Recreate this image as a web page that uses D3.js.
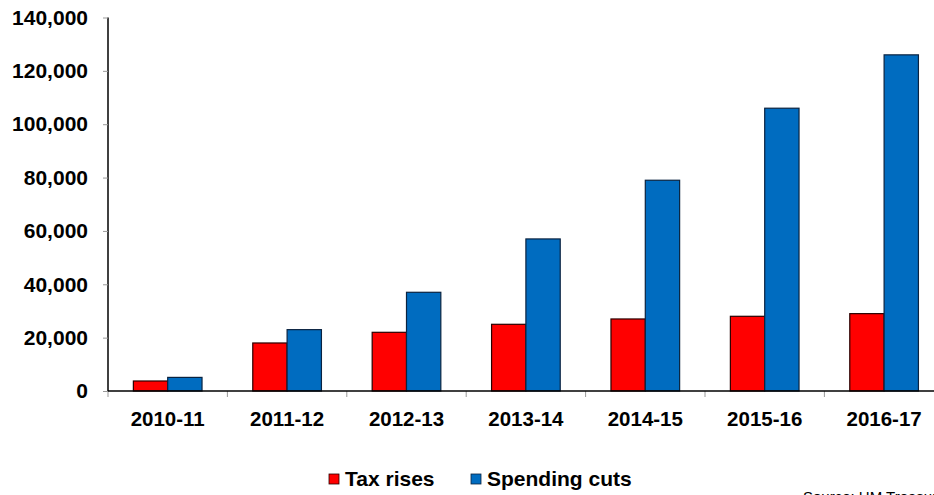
<!DOCTYPE html>
<html>
<head>
<meta charset="utf-8">
<script src="https://cdn.jsdelivr.net/npm/d3@7"></script>
<style>
  body { margin: 0; background: #fff; }
  svg { display: block; font-family: "Liberation Sans", Arial, sans-serif; }
</style>
</head>
<body>
<svg id="chart" width="934" height="495"></svg>
<script>
const years = ["2010-11", "2011-12", "2012-13", "2013-14", "2014-15", "2015-16", "2016-17"];
const taxRises = [3750, 18000, 22000, 25000, 27000, 28000, 29000];
const spendingCuts = [5100, 23000, 37000, 57000, 79000, 106000, 126000];
const yTicks = [0, 20000, 40000, 60000, 80000, 100000, 120000, 140000];
const seriesNames = ["Tax rises", "Spending cuts"];
const seriesColors = ["#ff0000", "#006cc0"];
const seriesStroke = ["#2a0000", "#0a2340"];

const svg = d3.select("#chart");
const plotLeft = 108, plotTop = 17.5, plotBottom = 391, step = 119.4;

const x0 = d3.scaleBand().domain(years)
    .range([plotLeft, plotLeft + step * years.length])
    .paddingInner(0.425).paddingOuter(0.2125);
const x1 = d3.scaleBand().domain(seriesNames).range([0, x0.bandwidth()]);
const y = d3.scaleLinear().domain([0, 140000]).range([plotBottom, plotTop]);

const data = years.map((yr, i) => ({ year: yr, values: [taxRises[i], spendingCuts[i]] }));

// bars
const groups = svg.append("g").selectAll("g")
    .data(data).join("g")
    .attr("transform", d => `translate(${x0(d.year)},0)`);

groups.selectAll("rect")
    .data(d => d.values.map((v, j) => ({ key: seriesNames[j], value: v, j: j })))
    .join("rect")
    .attr("x", d => x1(d.key))
    .attr("y", d => y(d.value))
    .attr("width", x1.bandwidth())
    .attr("height", d => y(0) - y(d.value))
    .attr("fill", d => seriesColors[d.j])
    .attr("stroke", d => seriesStroke[d.j])
    .attr("stroke-width", 1.2);

// y axis
const yAxis = svg.append("g")
    .attr("transform", `translate(${plotLeft},0)`)
    .call(d3.axisLeft(y).tickValues(yTicks).tickFormat(d3.format(",")).tickSize(5).tickPadding(15));
yAxis.select(".domain").attr("stroke", "#000").attr("stroke-width", 1.5).attr("d", `M0,${plotTop}V${plotBottom}`);
yAxis.selectAll(".tick line").attr("stroke", "#999");
yAxis.selectAll(".tick text")
    .attr("font-size", 21).attr("font-weight", "bold").attr("fill", "#000")
    .attr("font-family", "Liberation Sans, Arial, sans-serif");

// x axis: category boundary ticks
const boundaries = years.map(d => x0(d) - x0.step() * x0.paddingOuter());
svg.append("g").selectAll("line")
    .data(boundaries).join("line")
    .attr("x1", d => d).attr("x2", d => d)
    .attr("y1", plotBottom).attr("y2", plotBottom + 6)
    .attr("stroke", "#999");

const xAxis = svg.append("g")
    .attr("transform", `translate(0,${plotBottom})`)
    .call(d3.axisBottom(x0).tickSize(0).tickPadding(20.5));
xAxis.select(".domain").remove();
xAxis.selectAll(".tick text")
    .attr("font-size", 20.5).attr("font-weight", "bold").attr("fill", "#000")
    .attr("font-family", "Liberation Sans, Arial, sans-serif");

svg.append("line")
    .attr("x1", plotLeft).attr("x2", 934)
    .attr("y1", plotBottom).attr("y2", plotBottom)
    .attr("stroke", "#000").attr("stroke-width", 1.5);

// legend
const legendX = [329, 471];
const legend = svg.append("g").selectAll("g")
    .data(seriesNames).join("g")
    .attr("transform", (d, i) => `translate(${legendX[i]},474)`);
legend.append("rect")
    .attr("width", 10).attr("height", 10)
    .attr("fill", (d, i) => seriesColors[i])
    .attr("stroke", (d, i) => seriesStroke[i]).attr("stroke-width", 0.8);
legend.append("text")
    .attr("x", 16).attr("y", 11.5)
    .attr("font-size", 21).attr("font-weight", "bold")
    .text(d => d);

// source note (clipped at bottom edge, as in the original)
svg.append("text")
    .attr("x", 803).attr("y", 502)
    .attr("font-size", 15)
    .text("Source: HM Treasury");
</script>
</body>
</html>
